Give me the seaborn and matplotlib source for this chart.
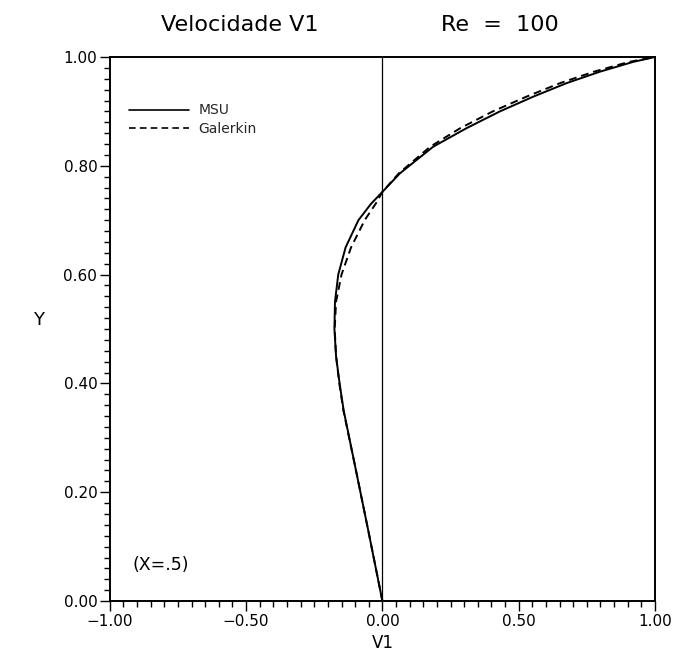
import matplotlib
matplotlib.use("Agg")
import matplotlib.pyplot as plt
from matplotlib.ticker import MultipleLocator
import seaborn as sns
import pandas as pd

# Vertical profile of V1 along the cavity centre line x = 0.5, Re = 100
y_msu = [0.0, 0.125, 0.25, 0.35, 0.40, 0.45, 0.50, 0.55, 0.60, 0.65, 0.70,
         0.73, 0.752, 0.786, 0.835, 0.869, 0.90, 0.927, 0.952, 0.973, 0.991, 1.0]
v1_msu = [0.0, -0.050, -0.101, -0.142, -0.157, -0.170, -0.176, -0.174, -0.162,
          -0.135, -0.088, -0.042, 0.0, 0.064, 0.186, 0.308, 0.431, 0.553,
          0.676, 0.798, 0.920, 1.0]

y_gal = [0.0, 0.125, 0.25, 0.35, 0.40, 0.45, 0.50, 0.55, 0.60, 0.65, 0.70,
         0.73, 0.752, 0.786, 0.835, 0.869, 0.90, 0.927, 0.952, 0.973, 0.991, 1.0]
v1_gal = [0.0, -0.050, -0.101, -0.143, -0.158, -0.170, -0.175, -0.170, -0.150,
          -0.115, -0.065, -0.025, 0.0, 0.060, 0.175, 0.285, 0.405, 0.528,
          0.652, 0.776, 0.905, 1.0]

xtick_values = [-1.0, -0.5, 0.0, 0.5, 1.0]
xtick_labels = ["\u22121.00", "\u22120.50", "0.00", "0.50", "1.00"]
ytick_values = [0.0, 0.2, 0.4, 0.6, 0.8, 1.0]
ytick_labels = ["0.00", "0.20", "0.40", "0.60", "0.80", "1.00"]

df = pd.DataFrame({
    "V1": v1_msu + v1_gal,
    "Y": y_msu + y_gal,
    "metodo": ["MSU"] * len(y_msu) + ["Galerkin"] * len(y_gal),
})

sns.set_theme(style="white")
plt.rcParams["font.family"] = ["DejaVu Sans"]

fig = plt.figure(figsize=(6.78, 6.53), dpi=100)
ax = fig.add_axes([0.162, 0.0796, 0.804, 0.8331])

sns.lineplot(data=df, x="V1", y="Y", style="metodo", sort=False,
             estimator=None, orient="y", color="black", linewidth=1.4,
             dashes={"MSU": "", "Galerkin": (4, 2.5)}, ax=ax)

ax.axvline(0.0, color="black", linewidth=0.9, zorder=1)

ax.set_xlim(-1, 1)
ax.set_ylim(0, 1)
ax.set_xticks(xtick_values)
ax.set_xticklabels(xtick_labels)
ax.set_yticks(ytick_values)
ax.set_yticklabels(ytick_labels)
ax.xaxis.set_minor_locator(MultipleLocator(0.05))
ax.yaxis.set_minor_locator(MultipleLocator(0.02))
ax.tick_params(which="both", direction="out", color="black", width=1.0,
               labelsize=11, labelcolor="black", bottom=True, left=True,
               top=False, right=False)
ax.tick_params(which="major", length=7, pad=2)
ax.tick_params(which="minor", length=4)

for side in ax.spines.values():
    side.set_color("black")
    side.set_linewidth(1.4)

ax.set_xlabel("V1", fontsize=12, labelpad=4, color="black")
ax.set_ylabel("Y", fontsize=13, rotation=0, labelpad=18, color="black")

leg = ax.legend(loc="upper left", bbox_to_anchor=(0.025, 0.925), frameon=False,
                fontsize=10, handlelength=4.3, handletextpad=0.7,
                labelspacing=0.35, borderaxespad=0)
for h in leg.get_lines():
    h.set_linewidth(1.2)

ax.text(0.042, 0.066, "(X=.5)", transform=ax.transAxes, fontsize=12.5,
        color="black", va="center", ha="left")

fig.text(240 / 678, 1 - 25 / 653, "Velocidade V1", ha="center",
         va="center", fontsize=16, color="black")
fig.text(500 / 678, 1 - 25 / 653, "Re  =  100", ha="center",
         va="center", fontsize=16, color="black")

fig.savefig("out.png", dpi=100, facecolor="white")
